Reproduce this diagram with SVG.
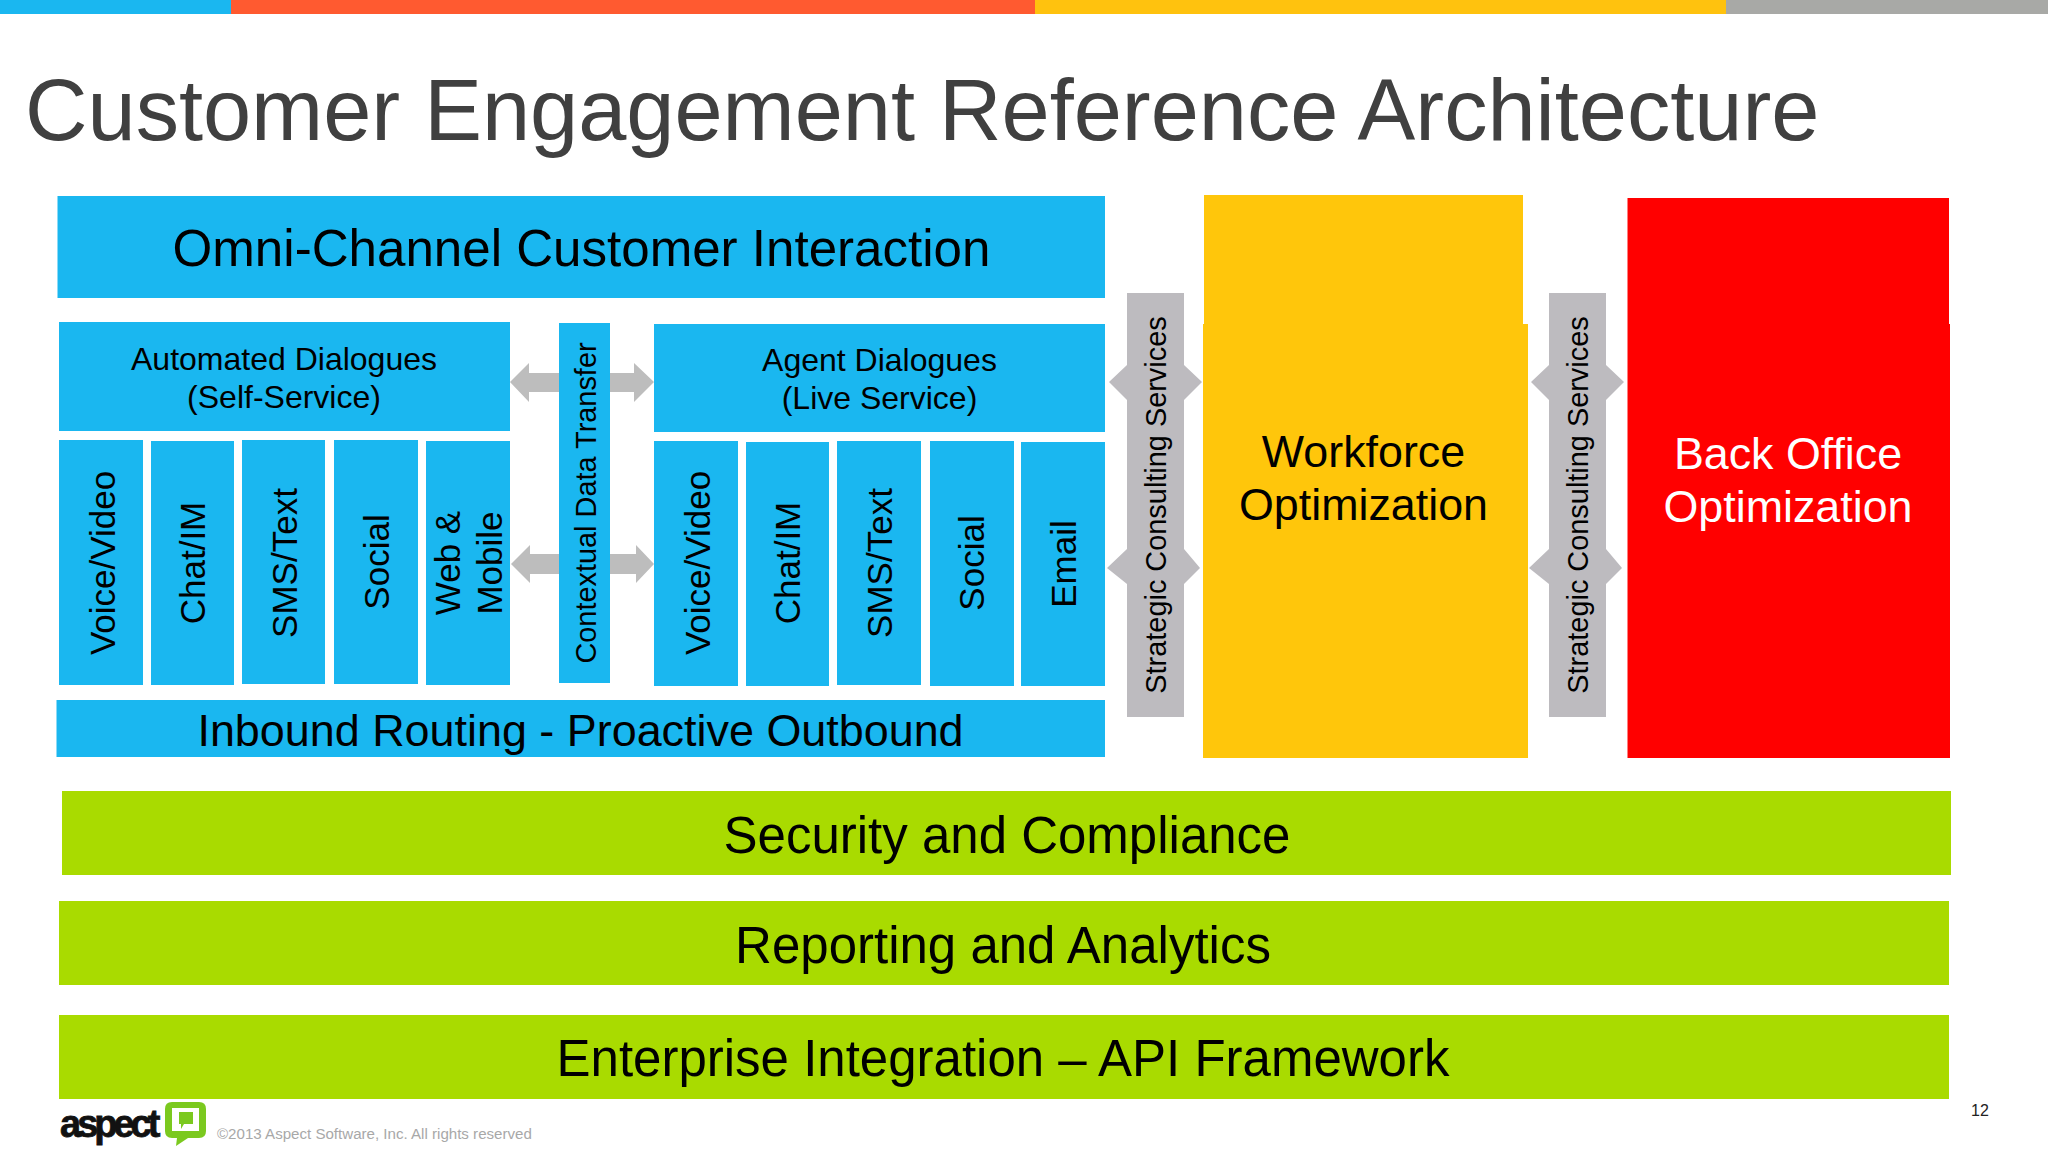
<svg xmlns="http://www.w3.org/2000/svg" width="2048" height="1152" viewBox="0 0 2048 1152">
<style>
text{font-family:"Liberation Sans",Arial,sans-serif;fill:#000;text-anchor:middle}
.b{fill:#1ab7f0}.g{fill:#a9db00}.a{fill:#bdbdbd}.s{fill:#bdbbbf}
.t1{font-size:51.1px}.t2{font-size:51px}.t3{font-size:44.9px}.t4{font-size:32px}.t5{font-size:35px}.t6{font-size:28.9px}.t7{font-size:44.8px}
</style>
<rect width="2048" height="1152" fill="#fff"/>
<g id="topbar"><rect x="0" y="0" width="231" height="14" fill="#1ab7f0"/><rect x="231" y="0" width="804" height="14" fill="#ff5a30"/><rect x="1035" y="0" width="691" height="14" fill="#ffc20e"/><rect x="1726" y="0" width="322" height="14" fill="#a8a9a6"/></g>
<text id="title" x="25" y="140" style="text-anchor:start;font-size:86.550px;fill:#404040">Customer Engagement Reference Architecture</text>
<g id="connectors">
<polygon class="a" points="510,382 529,363 529,373 559,373 559,392 529,392 529,402"/>
<polygon class="a" points="654,382 634,363 634,373 610,373 610,392 634,392 634,402"/>
<polygon class="a" points="511,564 530,545 530,554 559,554 559,574 530,574 530,583"/>
<polygon class="a" points="654,564 636,545 636,554 610,554 610,574 636,574 636,583"/>
</g>
<g id="omni"><rect class="b" x="57.500" y="196" width="1047.500" height="102"/><text class="t1" x="581.500" y="265.500">Omni-Channel Customer Interaction</text></g>
<g id="automated"><rect class="b" x="59" y="322" width="451" height="109"/><text class="t4" x="284" y="370">Automated Dialogues</text><text class="t4" x="284" y="408">(Self-Service)</text></g>
<g id="agent"><rect class="b" x="654" y="324" width="451" height="108"/><text class="t4" x="879.500" y="371">Agent Dialogues</text><text class="t4" x="879.500" y="409">(Live Service)</text></g>
<g id="l1"><rect class="b" x="59" y="440" width="84" height="245"/><text class="t5" transform="translate(114.500 563) rotate(-90)">Voice/Video</text></g>
<g id="l2"><rect class="b" x="151" y="441" width="83" height="244"/><text class="t5" transform="translate(205 563) rotate(-90)">Chat/IM</text></g>
<g id="l3"><rect class="b" x="242" y="440" width="83" height="244"/><text class="t5" transform="translate(297 563) rotate(-90)">SMS/Text</text></g>
<g id="l4"><rect class="b" x="334" y="440" width="84" height="244"/><text class="t5" transform="translate(389 562) rotate(-90)">Social</text></g>
<g id="l5"><rect class="b" x="426" y="441" width="84" height="244"/><text class="t5" transform="translate(460 563) rotate(-90)">Web &amp;</text><text class="t5" transform="translate(502 563) rotate(-90)">Mobile</text></g>
<g id="context"><rect class="b" x="559" y="323" width="51" height="360"/><text class="t6" transform="translate(596 503) rotate(-90)">Contextual Data Transfer</text></g>
<g id="r1"><rect class="b" x="654" y="441" width="84" height="245"/><text class="t5" transform="translate(709.500 563) rotate(-90)">Voice/Video</text></g>
<g id="r2"><rect class="b" x="746" y="442" width="83" height="244"/><text class="t5" transform="translate(800 563) rotate(-90)">Chat/IM</text></g>
<g id="r3"><rect class="b" x="837" y="441" width="84" height="244"/><text class="t5" transform="translate(892 563) rotate(-90)">SMS/Text</text></g>
<g id="r4"><rect class="b" x="930" y="441" width="84" height="245"/><text class="t5" transform="translate(984 563) rotate(-90)">Social</text></g>
<g id="r5"><rect class="b" x="1021" y="442" width="84" height="244"/><text class="t5" transform="translate(1076 564) rotate(-90)">Email</text></g>
<g id="inbound"><rect class="b" x="56.500" y="700" width="1048.500" height="57"/><text class="t3" x="580.500" y="746">Inbound Routing - Proactive Outbound</text></g>
<g id="svc1"><polygon class="s" points="1127,293 1184,293 1184,365 1202,382 1184,400 1184,549 1200,568 1184,584 1184,717 1127,717 1127,584 1107,568 1127,549 1127,400 1109,382 1127,365"/><text class="t6" transform="translate(1166 505) rotate(-90)">Strategic Consulting Services</text></g>
<g id="wfo"><path d="M1204 195H1523V324H1528V758H1203V324H1204Z" fill="#ffc60b"/><text class="t7" x="1363.500" y="467">Workforce</text><text class="t7" x="1363.500" y="520">Optimization</text></g>
<g id="svc2"><polygon class="s" points="1549,293 1606,293 1606,365 1624,382 1606,400 1606,549 1622,568 1606,584 1606,717 1549,717 1549,584 1529,568 1549,549 1549,400 1531,382 1549,365"/><text class="t6" transform="translate(1588 505) rotate(-90)">Strategic Consulting Services</text></g>
<g id="boo"><path d="M1627.500 198H1949V324H1950V758H1627.500Z" fill="#ff0000"/><text class="t7" x="1788" y="469" style="fill:#fff">Back Office</text><text class="t7" x="1788" y="522" style="fill:#fff">Optimization</text></g>
<g id="security"><rect class="g" x="62" y="791" width="1889" height="84"/><text class="t2" x="1007" y="853">Security and Compliance</text></g>
<g id="reporting"><rect class="g" x="59" y="901" width="1890" height="84"/><text class="t2" x="1003" y="963">Reporting and Analytics</text></g>
<g id="enterprise"><rect class="g" x="59" y="1015" width="1890" height="84"/><text class="t2" x="1003" y="1076">Enterprise Integration – API Framework</text></g>
<g id="logo">
<text x="60" y="1137" style="text-anchor:start;font-size:38px;font-weight:bold;letter-spacing:-4px;fill:#111" stroke="#111" stroke-width="0.800">aspect</text>
<path d="M172 1102H199Q206 1102 206 1109V1131Q206 1138 199 1138H188L176 1146L177 1138H172Q165 1138 165 1131V1109Q165 1102 172 1102Z" fill="#7bc91f"/>
<rect x="172" y="1108" width="27" height="23" fill="#fff"/>
<path d="M179 1112H193V1124H184L181 1129V1124H179Z" fill="#7bc91f"/>
</g>
<text id="copyright" x="217" y="1139" style="text-anchor:start;font-size:15.100px;fill:#a8a8a8">©2013 Aspect Software, Inc. All rights reserved</text>
<text id="pagenum" x="1980" y="1116" style="font-size:16px;fill:#222">12</text>
</svg>
